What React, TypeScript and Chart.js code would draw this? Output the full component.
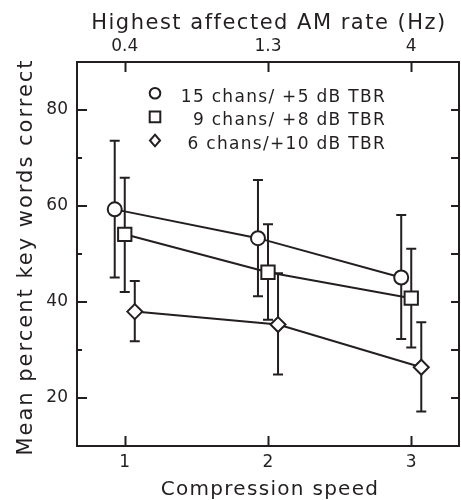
import React, { useEffect, useRef } from 'react';
import { Chart, registerables } from 'chart.js';

Chart.register(...registerables);

// ---- data ----
const speeds = [1, 2, 3];
const amRateLabels = ['0.4', '1.3', '4'];
const yMajorTicks = [20, 40, 60, 80];
const yMinorTicks = [30, 50, 70];
const seriesLabels = ['15 chans/ +5 dB TBR', '9 chans/ +8 dB TBR', '6 chans/+10 dB TBR'];
const seriesStyles = ['circle', 'rect', 'rectRot'];
const xOffsets = [-0.07, 0, 0.07];

const means15 = [59.3, 53.3, 45.1];
const upper15 = [73.6, 65.4, 58.1];
const lower15 = [45.1, 41.2, 32.3];

const means9 = [54.1, 46.2, 40.8];
const upper9 = [65.9, 56.2, 51.1];
const lower9 = [42.1, 36.3, 30.5];

const means6 = [38.0, 35.3, 26.4];
const upper6 = [44.4, 46.0, 35.8];
const lower6 = [31.8, 24.9, 17.2];

const INK = '#231f20';
const FONT = '"DejaVu Sans", sans-serif';

const allMeans = [means15, means9, means6];
const allUpper = [upper15, upper9, upper6];
const allLower = [lower15, lower9, lower6];

function drawMarker(ctx: CanvasRenderingContext2D, style: string, x: number, y: number, r: number) {
  ctx.beginPath();
  if (style === 'circle') {
    ctx.arc(x, y, r, 0, Math.PI * 2);
  } else if (style === 'rect') {
    ctx.rect(x - r, y - r, 2 * r, 2 * r);
  } else {
    ctx.moveTo(x, y - r * 1.1);
    ctx.lineTo(x + r * 0.95, y);
    ctx.lineTo(x, y + r * 1.1);
    ctx.lineTo(x - r * 0.95, y);
    ctx.closePath();
  }
  ctx.fillStyle = '#ffffff';
  ctx.fill();
  ctx.lineWidth = 2;
  ctx.strokeStyle = INK;
  ctx.stroke();
}

const errorBarPlugin = {
  id: 'errorBars',
  beforeDatasetsDraw(chart: any) {
    const ctx = chart.ctx as CanvasRenderingContext2D;
    const xs = chart.scales.x;
    const ys = chart.scales.y;
    ctx.save();
    ctx.strokeStyle = INK;
    ctx.lineWidth = 2;
    allMeans.forEach((_m, i) => {
      speeds.forEach((s, j) => {
        const px = xs.getPixelForValue(s + xOffsets[i]);
        const top = ys.getPixelForValue(allUpper[i][j]);
        const bot = ys.getPixelForValue(allLower[i][j]);
        ctx.beginPath();
        ctx.moveTo(px, top);
        ctx.lineTo(px, bot);
        ctx.moveTo(px - 5, top);
        ctx.lineTo(px + 5, top);
        ctx.moveTo(px - 5, bot);
        ctx.lineTo(px + 5, bot);
        ctx.stroke();
      });
    });
    ctx.restore();
  },
};

const framePlugin = {
  id: 'frameDecor',
  afterDraw(chart: any) {
    const ctx = chart.ctx as CanvasRenderingContext2D;
    const { left, right, top, bottom } = chart.chartArea;
    const xs = chart.scales.x;
    const ys = chart.scales.y;
    ctx.save();
    ctx.strokeStyle = INK;
    ctx.lineWidth = 2;
    ctx.beginPath();
    speeds.forEach((s) => {
      const px = Math.round(xs.getPixelForValue(s)) + 0.5;
      ctx.moveTo(px, bottom);
      ctx.lineTo(px, bottom - 10);
      ctx.moveTo(px, top);
      ctx.lineTo(px, top + 10);
    });
    yMajorTicks.forEach((v) => {
      const py = Math.round(ys.getPixelForValue(v));
      ctx.moveTo(left, py);
      ctx.lineTo(left + 10, py);
      ctx.moveTo(right, py);
      ctx.lineTo(right - 8, py);
    });
    yMinorTicks.forEach((v) => {
      const py = Math.round(ys.getPixelForValue(v));
      ctx.moveTo(left, py);
      ctx.lineTo(left + 5, py);
      ctx.moveTo(right, py);
      ctx.lineTo(right - 8, py);
    });
    ctx.stroke();

    // legend
    const legendX = 155;
    const legendY0 = 93.3;
    const legendStep = 23.6;
    seriesLabels.forEach((label, i) => {
      const y = legendY0 + i * legendStep;
      drawMarker(ctx, seriesStyles[i], legendX, y, 5.3);
      ctx.fillStyle = INK;
      ctx.font = `17px ${FONT}`;
      (ctx as any).letterSpacing = '1.3px';
      ctx.textAlign = 'right';
      ctx.textBaseline = 'alphabetic';
      ctx.fillText(label, 386, y + 8.3);
    });

    // titles
    ctx.textAlign = 'center';
    ctx.textBaseline = 'alphabetic';
    ctx.font = `21px ${FONT}`;
    (ctx as any).letterSpacing = '1.5px';
    ctx.fillText('Highest affected AM rate (Hz)', 269, 28.5);

    ctx.font = `20px ${FONT}`;
    (ctx as any).letterSpacing = '1.3px';
    ctx.fillText('Compression speed', 270, 495);

    ctx.translate(32, 257);
    ctx.rotate(-Math.PI / 2);
    ctx.font = `21px ${FONT}`;
    (ctx as any).letterSpacing = '2px';
    ctx.fillText('Mean percent key words correct', 0, 0);
    ctx.restore();
  },
};

function zeroPad(s: any) {
  s.paddingLeft = 0;
  s.paddingRight = 0;
  s.paddingTop = 0;
  s.paddingBottom = 0;
}

export default function App() {
  const canvasRef = useRef<HTMLCanvasElement | null>(null);

  useEffect(() => {
    const canvas = canvasRef.current;
    if (!canvas) return;

    const datasets = allMeans.map((means, i) => ({
      label: seriesLabels[i],
      data: means.map((m, j) => ({ x: speeds[j] + xOffsets[i], y: m })),
      showLine: true,
      borderColor: INK,
      borderWidth: 2,
      pointStyle: seriesStyles[i],
      pointRadius: seriesStyles[i] === 'rect' ? 9.4 : seriesStyles[i] === 'circle' ? 7 : 7.5,
      pointBackgroundColor: '#ffffff',
      pointBorderColor: INK,
      pointBorderWidth: 2,
      tension: 0,
    }));

    const tickFont = { family: FONT, size: 17 };

    const chart = new Chart(canvas, {
      type: 'scatter',
      data: { datasets },
      options: {
        animation: false,
        responsive: false,
        layout: { padding: 0, autoPadding: false },
        plugins: {
          legend: { display: false },
          tooltip: { enabled: false },
        },
        scales: {
          x: {
            type: 'linear',
            position: 'bottom',
            min: 2 / 3,
            max: 10 / 3,
            afterBuildTicks: (s: any) => {
              s.ticks = speeds.map((v) => ({ value: v }));
            },
            afterFit: (s: any) => {
              s.height = 54;
              zeroPad(s);
            },
            grid: { display: false, drawTicks: false },
            border: { display: true, color: INK, width: 2 },
            ticks: { font: tickFont, color: INK, padding: 6, maxRotation: 0, callback: (v: any) => String(v) },
          },
          x2: {
            type: 'linear',
            position: 'top',
            min: 2 / 3,
            max: 10 / 3,
            afterBuildTicks: (s: any) => {
              s.ticks = speeds.map((v) => ({ value: v }));
            },
            afterFit: (s: any) => {
              s.height = 62;
              zeroPad(s);
            },
            grid: { display: false, drawTicks: false },
            border: { display: true, color: INK, width: 2 },
            ticks: {
              font: tickFont,
              color: INK,
              padding: 5,
              maxRotation: 0,
              callback: (v: any) => amRateLabels[speeds.indexOf(Number(v))] ?? '',
            },
          },
          y: {
            type: 'linear',
            position: 'left',
            min: 10,
            max: 90,
            afterBuildTicks: (s: any) => {
              s.ticks = [...yMajorTicks, ...yMinorTicks].sort((a, b) => a - b).map((v) => ({ value: v }));
            },
            afterFit: (s: any) => {
              s.width = 77;
              zeroPad(s);
            },
            grid: { display: false, drawTicks: false },
            border: { display: true, color: INK, width: 2 },
            ticks: {
              font: tickFont,
              color: INK,
              padding: 9,
              callback: (v: any) => (yMajorTicks.includes(Number(v)) ? String(v) : ''),
            },
          },
          y2: {
            type: 'linear',
            position: 'right',
            min: 10,
            max: 90,
            afterFit: (s: any) => {
              s.width = 2;
              zeroPad(s);
            },
            grid: { display: false, drawTicks: false },
            border: { display: true, color: INK, width: 2 },
            ticks: { display: false },
          },
        },
      },
      plugins: [errorBarPlugin, framePlugin],
    });

    return () => chart.destroy();
  }, []);

  return (
    <div style={{ position: 'fixed', left: 0, top: 0, width: 461, height: 500, background: '#ffffff' }}>
      <canvas ref={canvasRef} width={461} height={500} style={{ display: 'block' }} />
    </div>
  );
}
